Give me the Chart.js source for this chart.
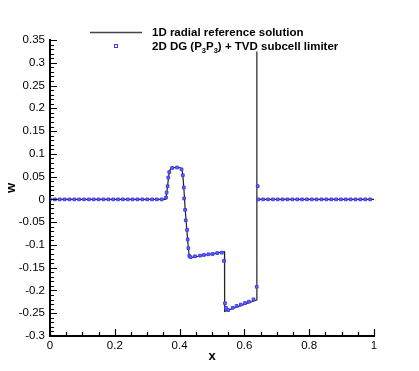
<!DOCTYPE html>
<html>
<head>
<meta charset="utf-8">
<script src="https://cdn.jsdelivr.net/npm/chart.js@4/dist/chart.umd.min.js"></script>
<style>
  body { margin: 0; background: #fff; }
</style>
</head>
<body>
<canvas id="myChart" width="419" height="371"></canvas>
<script>
// 1D radial reference solution (line)
var refX = [0, 0.357, 0.360, 0.363, 0.366, 0.369, 0.373, 0.378, 0.395, 0.404, 0.408, 0.411, 0.414, 0.417, 0.421, 0.425, 0.428, 0.431, 0.435, 0.5385, 0.539, 0.638, 0.6383, 0.6387, 1];
var refY = [0, 0, 0.012, 0.03, 0.05, 0.062, 0.068, 0.0695, 0.0705, 0.069, 0.063, 0.045, 0.015, -0.02, -0.055, -0.09, -0.115, -0.127, -0.128, -0.115, -0.246, -0.221, 0.325, 0, 0];

// 2D DG (P3P3) + TVD subcell limiter (markers)
var dgX = [0, 0.015, 0.03, 0.045, 0.06, 0.075, 0.09, 0.105, 0.12, 0.135, 0.15, 0.165, 0.18, 0.195, 0.21, 0.225, 0.24, 0.255, 0.27, 0.285, 0.3, 0.315, 0.33, 0.345,
  0.358, 0.360, 0.363, 0.365, 0.368, 0.377, 0.392, 0.406, 0.410, 0.413, 0.414, 0.417, 0.419, 0.423, 0.425, 0.427, 0.430, 0.434,
  0.4475, 0.463, 0.475, 0.489, 0.502, 0.516, 0.530, 0.537,
  0.540, 0.543, 0.550, 0.564, 0.576, 0.589, 0.602, 0.614, 0.628, 0.638, 0.641,
  0.643, 0.658, 0.673, 0.688, 0.703, 0.718, 0.733, 0.748, 0.763, 0.778, 0.793, 0.808, 0.823, 0.838, 0.853, 0.868, 0.883, 0.898, 0.913, 0.928, 0.943, 0.958, 0.973, 0.988];
var dgY = [0, 0, 0, 0, 0, 0, 0, 0, 0, 0, 0, 0, 0, 0, 0, 0, 0, 0, 0, 0, 0, 0, 0, 0,
  0.004, 0.015, 0.029, 0.048, 0.060, 0.069, 0.070, 0.066, 0.053, 0.026, 0.002, -0.023, -0.046, -0.067, -0.088, -0.107, -0.124, -0.127,
  -0.125, -0.1236, -0.122, -0.1206, -0.120, -0.118, -0.117, -0.135,
  -0.228, -0.238, -0.243, -0.238, -0.234, -0.231, -0.2275, -0.2246, -0.2195, -0.192, 0.029,
  0, 0, 0, 0, 0, 0, 0, 0, 0, 0, 0, 0, 0, 0, 0, 0, 0, 0, 0, 0, 0, 0, 0, 0];

var xTicks = [0, 0.2, 0.4, 0.6, 0.8, 1];
var yTicks = [-0.3, -0.25, -0.2, -0.15, -0.1, -0.05, 0, 0.05, 0.1, 0.15, 0.2, 0.25, 0.3, 0.35];
var legendLabels = ['1D radial reference solution', '2D DG (P', '3', 'P', '3', ') + TVD subcell limiter'];

var FONT = 'Arial, "Liberation Sans", sans-serif';
var markerBorder = 'rgb(60,60,235)';
var markerFill = 'rgb(105,105,250)';

function toPoints(xs, ys) {
    return xs.map(function(x, i) { return {x: x, y: ys[i]}; });
}

// inward major/minor ticks and the legend, Tecplot style
var tecplotPlugin = {
    id: 'tecplot',
    afterDraw: function(chart) {
        var ctx = chart.ctx;
        var xs = chart.scales.x, ys = chart.scales.y;
        var a = chart.chartArea;
        ctx.save();
        ctx.strokeStyle = '#000';
        ctx.lineWidth = 1.2;
        ctx.beginPath();
        for (var i = -30; i <= 35; i++) {
            var py = Math.round(ys.getPixelForValue(i / 100)) + 0.5;
            var len = (i % 5 === 0) ? 7 : 4;
            ctx.moveTo(a.left, py);
            ctx.lineTo(a.left + len, py);
        }
        for (var j = 0; j <= 20; j++) {
            var px = Math.round(xs.getPixelForValue(j / 20)) + 0.5;
            var len2 = (j % 4 === 0) ? 7 : 4;
            ctx.moveTo(px, a.bottom);
            ctx.lineTo(px, a.bottom - len2);
        }
        ctx.stroke();

        // legend
        ctx.strokeStyle = '#444';
        ctx.lineWidth = 1.3;
        ctx.beginPath();
        ctx.moveTo(90, 32.5);
        ctx.lineTo(142, 32.5);
        ctx.stroke();
        ctx.strokeStyle = markerBorder;
        ctx.lineWidth = 1;
        ctx.strokeRect(114.5, 44.5, 3, 3);

        ctx.fillStyle = '#000';
        ctx.textBaseline = 'middle';
        ctx.font = 'bold 11.5px ' + FONT;
        ctx.fillText(legendLabels[0], 152, 32.5);
        var x = 152, y = 46.5;
        for (var k = 1; k < legendLabels.length; k++) {
            var sub = (k === 2 || k === 4);
            ctx.font = sub ? 'bold 7.5px ' + FONT : 'bold 11.5px ' + FONT;
            ctx.fillText(legendLabels[k], x, sub ? y + 4 : y);
            x += ctx.measureText(legendLabels[k]).width;
        }
        ctx.restore();
    }
};

var ctx = document.getElementById('myChart').getContext('2d');
var myChart = new Chart(ctx, {
    type: 'scatter',
    data: {
        datasets: [{
            label: '2D DG (P3P3) + TVD subcell limiter',
            data: toPoints(dgX, dgY),
            showLine: false,
            pointStyle: 'rect',
            pointRadius: 1.9,
            pointBorderWidth: 1,
            borderColor: markerBorder,
            backgroundColor: markerFill
        },
        {
            label: '1D radial reference solution',
            data: toPoints(refX, refY),
            showLine: true,
            pointRadius: 0,
            borderColor: '#222',
            borderWidth: 1.2,
            backgroundColor: 'transparent',
            tension: 0
        }]
    },
    options: {
        responsive: false,
        animation: false,
        layout: { padding: { top: 40, right: 45, left: 0, bottom: 0 } },
        plugins: {
            legend: { display: false },
            tooltip: { enabled: false }
        },
        scales: {
            x: {
                type: 'linear',
                min: 0,
                max: 1,
                afterFit: function(s) { s.height = 35; },
                afterBuildTicks: function(s) { s.ticks = xTicks.map(function(v) { return {value: v}; }); },
                grid: { display: false, drawTicks: false },
                border: { display: true, color: '#000', width: 2 },
                ticks: {
                    padding: 3,
                    color: '#000',
                    font: { family: FONT, size: 11.5 },
                    callback: function(v) { return String(+v.toFixed(3)); }
                },
                title: {
                    display: true,
                    text: 'x',
                    color: '#000',
                    font: { family: FONT, size: 13, weight: 'bold' },
                    padding: { top: 0, bottom: 7 }
                }
            },
            y: {
                type: 'linear',
                min: -0.3,
                max: 0.35,
                afterFit: function(s) { s.width = 50; },
                afterBuildTicks: function(s) { s.ticks = yTicks.map(function(v) { return {value: v}; }); },
                grid: { display: false, drawTicks: false },
                border: { display: true, color: '#000', width: 2 },
                ticks: {
                    padding: 5,
                    color: '#000',
                    font: { family: FONT, size: 11.5 },
                    callback: function(v) { return String(+v.toFixed(3)); }
                },
                title: {
                    display: true,
                    text: 'w',
                    color: '#000',
                    font: { family: FONT, size: 13, weight: 'bold' },
                    padding: { top: 4, bottom: 0 }
                }
            }
        }
    },
    plugins: [tecplotPlugin]
});
</script>
</body>
</html>
